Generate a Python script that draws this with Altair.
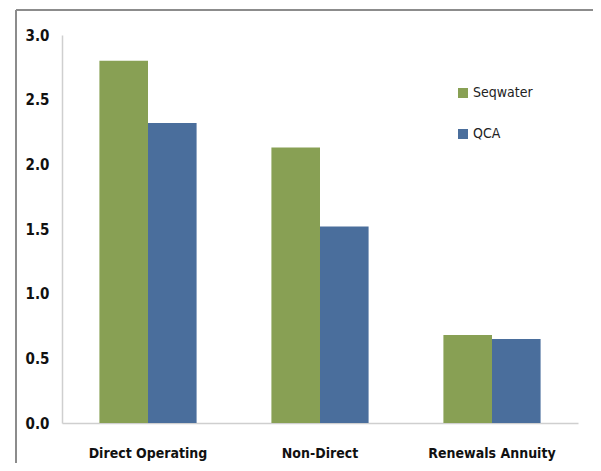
import altair as alt
import pandas as pd

categories = ["Direct Operating", "Non-Direct", "Renewals Annuity"]
series_names = ["Seqwater", "QCA"]
seqwater = [2.80, 2.13, 0.68]
qca = [2.32, 1.52, 0.65]
y_ticks = [0.0, 0.5, 1.0, 1.5, 2.0, 2.5, 3.0]
colors = ["#88A054", "#4A6E9C"]

rows = []
for c, s, q in zip(categories, seqwater, qca):
    rows.append({"category": c, "series": "Seqwater", "value": s})
    rows.append({"category": c, "series": "QCA", "value": q})
df = pd.DataFrame(rows)

FONT = "DejaVu Sans Condensed, sans-serif"

bars = alt.Chart(df).mark_bar().encode(
    x=alt.X("category:N", sort=categories,
            scale=alt.Scale(paddingInner=0.435, paddingOuter=0.2175),
            axis=alt.Axis(title=None, labelAngle=0, labelFontSize=14, labelFontWeight="bold",
                          labelFont=FONT, labelColor="#111111", labelPadding=23,
                          ticks=False, domainColor="#cfcfcf", domainWidth=1.5)),
    xOffset=alt.XOffset("series:N", sort=series_names),
    y=alt.Y("value:Q", scale=alt.Scale(domain=[0, 3.0], nice=False),
            axis=alt.Axis(title=None, values=y_ticks, format=".1f", grid=False, ticks=False,
                          labelFontSize=15, labelFontWeight="bold", labelFont=FONT,
                          labelColor="#111111", labelPadding=13,
                          domainColor="#cfcfcf", domainWidth=1.5)),
    color=alt.Color("series:N", sort=series_names,
                    scale=alt.Scale(domain=series_names, range=colors),
                    legend=alt.Legend(title=None, orient="none", legendX=394, legendY=51,
                                      symbolType="square", symbolSize=100, symbolStrokeWidth=0,
                                      labelFontSize=14, labelFont=FONT, labelColor="#222222",
                                      rowPadding=27, labelOffset=3)),
)

frame_top = alt.Chart(df).mark_rule(color="#8c8c8c", strokeWidth=2).encode(
    x=alt.value(-46), x2=alt.value(600), y=alt.value(-25)
)
frame_left = alt.Chart(df).mark_rule(color="#8c8c8c", strokeWidth=2).encode(
    x=alt.value(-46), y=alt.value(-25), y2=alt.value(600)
)

chart = alt.layer(frame_top, frame_left, bars).properties(
    width=516, height=388,
    autosize=alt.AutoSizeParams(type="none"),
    padding={"left": 54, "top": 27, "right": 15, "bottom": 40},
).configure_view(stroke=None)

chart.save("out.html", embed_options={"renderer": "svg", "actions": False})
